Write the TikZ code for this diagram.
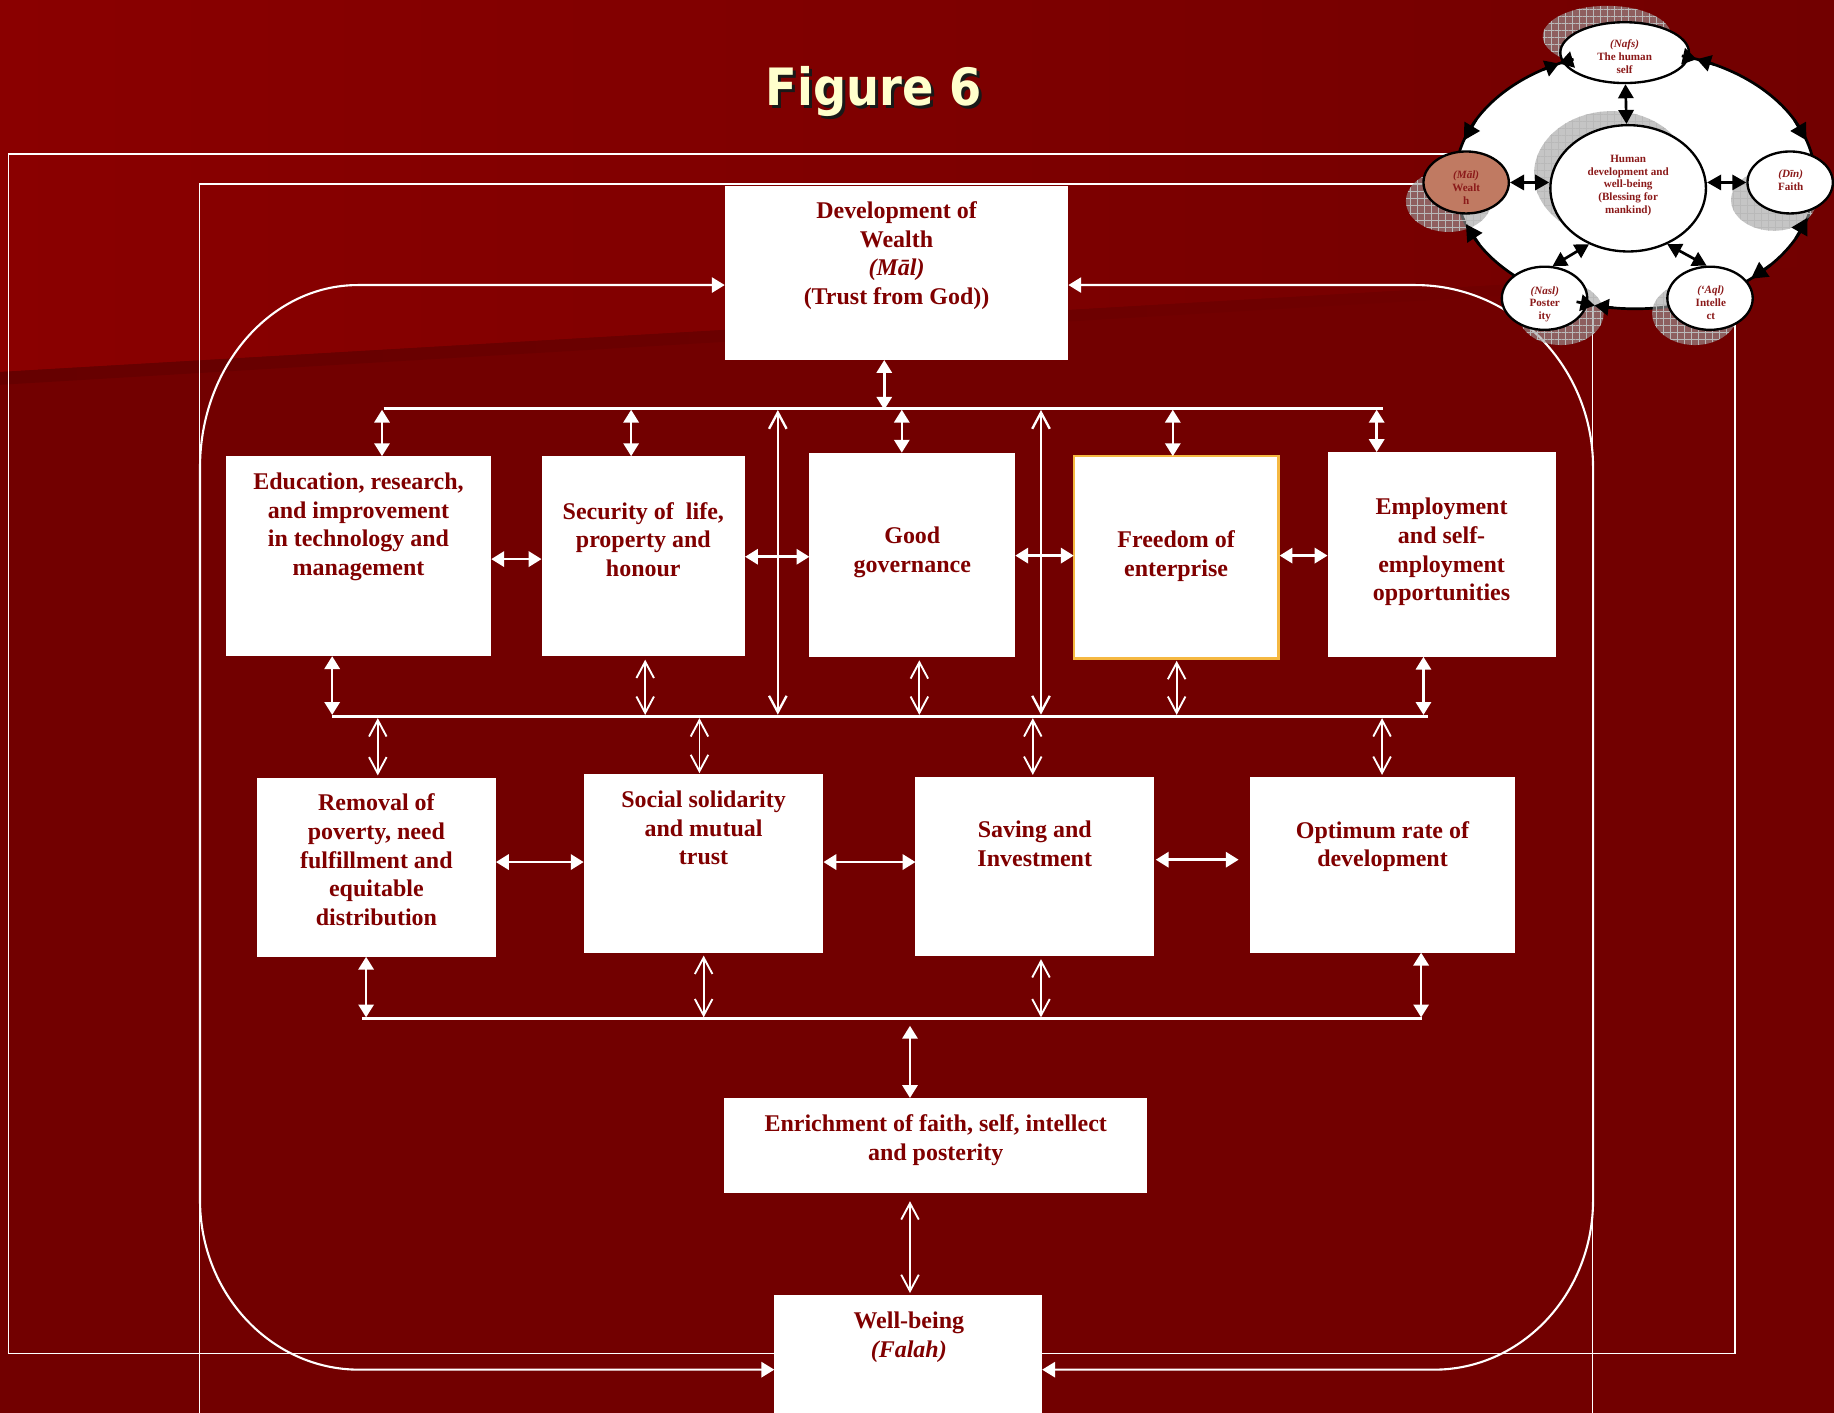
\documentclass[tikz,border=0pt]{standalone}
\usepackage{fontspec}
\setmainfont{Liberation Serif}
\newfontfamily\titlefont{DejaVu Sans}
\usetikzlibrary{arrows.meta,patterns.meta,shapes.geometric,calc}
\definecolor{bgred}{HTML}{720000}
\definecolor{bglight}{HTML}{8A0000}
\definecolor{bgmid}{HTML}{7E0000}
\definecolor{bgdark}{HTML}{660000}
\definecolor{txtred}{HTML}{800000}
\definecolor{elltxt}{HTML}{8B1A1A}
\definecolor{titleyel}{HTML}{FFFFCC}
\definecolor{orangeb}{HTML}{F5B841}
\definecolor{wealthc}{HTML}{C07A62}
\begin{document}
\begin{tikzpicture}[x=1pt,y=-1pt,
  boxw/.style={fill=white,draw=none,inner sep=0pt,outer sep=0pt},
  txt/.style={text=txtred,font=\bfseries\fontsize{20.5}{24.5}\selectfont,align=center,inner sep=0pt,anchor=north},
  fillarr/.style={draw=white,line width=2.2pt,{Triangle[length=11pt,width=13pt]}-{Triangle[length=11pt,width=13pt]}},
  openarr/.style={draw=white,line width=1.6pt,{Straight Barb[length=14pt,width=15pt,line width=1.6pt]}-{Straight Barb[length=14pt,width=15pt,line width=1.6pt]}},
  openarrl/.style={draw=white,line width=2.2pt,{Straight Barb[length=14pt,width=15pt,line width=2pt]}-{Straight Barb[length=14pt,width=15pt,line width=2pt]}},
  busline/.style={draw=white,line width=2.6pt},
  framel/.style={draw=white,line width=1.3pt},
  rrect/.style={draw=white,line width=1.8pt},
  satell/.style={ellipse,draw=black,line width=2pt,fill=white,inner sep=0pt,minimum width=73pt,minimum height=53pt},
  etxt/.style={text=elltxt,font=\bfseries\fontsize{9.5}{10.9}\selectfont,align=center,inner sep=0pt},
  shadf/.style={fill=gray!75,fill opacity=0.6},
  shadp/.style={pattern={Hatch[angle=0,distance=6pt,line width=0.6pt]},pattern color=gray!55},
  centarr/.style={draw=black,line width=2.3pt,{Triangle[length=12pt,width=13pt]}-{Triangle[length=12pt,width=13pt]}},
  ringtip/.style={draw=black,line width=2.3pt,-{Triangle[length=14pt,width=15pt]}},
  bowtip/.style={draw=black,line width=2.3pt,-{Triangle[length=12pt,width=14pt]}},
]
\useasboundingbox (0,0) rectangle (1568,1208);
\clip (0,0) rectangle (1568,1208);
% background
\fill[bgred] (0,0) rectangle (1568,1208);
\shade[left color=bglight,right color=bgred,middle color=bgmid] (0,0) -- (1568,0) -- (1568,227) -- (0,318) -- cycle;
\shade[left color=bgdark,right color=bgred] (0,318) -- (1568,227) -- (1568,236) -- (0,329) -- cycle;
% title
\node[font=\titlefont\bfseries\fontsize{44}{44}\selectfont,text=black!90,anchor=base,inner sep=0pt] (titlesh) at (749.5,92.5) {\scalebox{0.9}[1]{Figure 6}};
\node[font=\titlefont\bfseries\fontsize{44}{44}\selectfont,text=titleyel,anchor=base,inner sep=0pt] (title) at (747,90) {\scalebox{0.9}[1]{Figure 6}};
% frames
\draw[framel] (7.4,131.7) rectangle (1483.5,1157);
\draw[framel] (170.5,1220) -- (170.5,157.3) -- (1361.5,157.3) -- (1361.5,1220);
% boxes
\node[boxw,minimum width=293.8pt,minimum height=149.1pt] (dev) at (766.5,233.25) {};
\node[boxw,minimum width=227pt,minimum height=171pt] (edu) at (306.5,475.5) {};
\node[boxw,minimum width=174pt,minimum height=171pt] (sec) at (550,475.5) {};
\node[boxw,minimum width=176pt,minimum height=174.5pt] (gov) at (780,474.25) {};
\node[boxw,draw=orangeb,line width=2pt,minimum width=175pt,minimum height=173pt] (fre) at (1005.5,476.5) {};
\node[boxw,minimum width=195pt,minimum height=175pt] (emp) at (1232.5,474) {};
\node[boxw,minimum width=204.4pt,minimum height=153pt] (rem) at (321.8,741.5) {};
\node[boxw,minimum width=205pt,minimum height=152.5pt] (soc) at (601.5,738.25) {};
\node[boxw,minimum width=203.9pt,minimum height=152.5pt] (sav) at (884.65,740.75) {};
\node[boxw,minimum width=226pt,minimum height=150pt] (opt) at (1182,739.5) {};
\node[boxw,minimum width=361.3pt,minimum height=81.3pt] (enr) at (800,979.35) {};
\node[boxw,minimum width=229pt,minimum height=123pt] (wb) at (776.5,1168.5) {};
% box texts
\node[txt] (tdev) at (766.5,172.2) {Development of\\Wealth\\\textit{(Māl)}\\(Trust from God))};
\node[txt] (tedu) at (306.5,404.2) {Education, research,\\and improvement\\in technology and\\management};
\node[txt] (tsec) at (550,429.2) {Security of~ life,\\property and\\honour};
\node[txt] (tgov) at (780,450.2) {Good\\governance};
\node[txt] (tfre) at (1005.5,453.6) {Freedom of\\enterprise};
\node[txt] (temp) at (1232.5,425.7) {Employment\\and self-\\employment\\opportunities};
\node[txt] (trem) at (321.8,678.7) {Removal of\\poverty, need\\fulfillment and\\equitable\\distribution};
\node[txt] (tsoc) at (601.5,675.9) {Social solidarity\\and mutual\\trust};
\node[txt] (tsav) at (884.65,702) {Saving and\\Investment};
\node[txt] (topt) at (1182,702) {Optimum rate of\\development};
\node[txt] (tenr) at (800,952.9) {Enrichment of faith, self, intellect\\and posterity};
\node[txt] (twb) at (777,1121.6) {Well-being\\\textit{(Falah)}};
% rounded frame
\coordinate (rlt) at (306,243.7);
\coordinate (rlb) at (307,1171);
\coordinate (rrt) at (1210,243.7);
\coordinate (rrb) at (1226,1171);
\draw[rrect,{Triangle[length=11pt,width=13pt]}-{Triangle[length=11pt,width=13pt]}] (rlt -| dev.west) -- (rlt) arc[start angle=90,end angle=180,x radius=135pt,y radius=156pt] -- (171,1026) arc[start angle=180,end angle=270,x radius=136pt,y radius=145pt] -- (rlb -| wb.west);
\draw[rrect,{Triangle[length=11pt,width=13pt]}-{Triangle[length=11pt,width=13pt]}] (rrt -| dev.east) -- (rrt) arc[start angle=90,end angle=0,x radius=152pt,y radius=156pt] -- (1362,1026) arc[start angle=0,end angle=-90,x radius=136pt,y radius=145pt] -- (rrb -| wb.east);
% top bus
\draw[busline] (328,349) -- (1182,349);
\coordinate (tbd) at (756,350.3);
\draw[fillarr] (tbd) -- (tbd |- dev.south);
\foreach \x/\n in {326.6/edu,539.6/sec,771/gov,1002.7/fre,1177/emp} {
  \coordinate (t\n) at (\x,350.3);
  \draw[fillarr] (t\n) -- (t\n |- \n.north);
}
\coordinate (lv1a) at (665,350.5);
\coordinate (lv1b) at (665,611);
\coordinate (lv2a) at (890,350.5);
\coordinate (lv2b) at (890,611);
\draw[openarrl] (lv1a) -- (lv1b);
\draw[openarrl] (lv2a) -- (lv2b);
% row 1 horizontals
\draw[fillarr] ($(edu.east)+(0,2.5)$) -- ($(edu.east -| sec.west)+(0,2.5)$);
\draw[fillarr] ($(sec.east)+(0,0.5)$) -- ($(sec.east -| gov.west)+(0,0.5)$);
\draw[fillarr] ($(gov.east)+(0,0.75)$) -- ($(gov.east -| fre.west)+(0,0.75)$);
\draw[fillarr] ($(fre.east)+(1,-1.5)$) -- ($(fre.east -| emp.west)+(0,-1.5)$);
% middle bus
\draw[busline] (284,612.5) -- (1220.5,612.5);
\coordinate (medu) at (284,611.2);
\coordinate (msec) at (551.6,611.2);
\coordinate (mgov) at (786,611.2);
\coordinate (mfre) at (1006,611.2);
\coordinate (memp) at (1217,611.2);
\draw[fillarr] (medu |- edu.south) -- (medu);
\draw[openarr] ($(msec |- sec.south)+(0,3)$) -- (msec);
\draw[openarr] ($(mgov |- gov.south)+(0,3)$) -- (mgov);
\draw[openarr] ($(mfre |- fre.south)+(0,2)$) -- (mfre);
\draw[fillarr] (memp |- emp.south) -- (memp);
\coordinate (mrem) at (323,614);
\coordinate (msoc) at (598,614);
\coordinate (msav) at (883,614);
\coordinate (mopt) at (1181.6,614);
\draw[openarr] (mrem) -- ($(mrem |- rem.north)+(0,-2)$);
\draw[openarr] (msoc) -- ($(msoc |- soc.north)+(0,-1)$);
\draw[openarr] (msav) -- ($(msav |- sav.north)+(0,-2)$);
\draw[openarr] (mopt) -- ($(mopt |- opt.north)+(0,-2)$);
% row 2 horizontals
\draw[fillarr] ($(rem.east)+(0,-4.5)$) -- ($(rem.east -| soc.west)+(0,-4.5)$);
\draw[fillarr] ($(soc.east)+(0,-1.25)$) -- ($(soc.east -| sav.west)+(0,-1.25)$);
\draw[fillarr] ($(sav.east)+(1.5,-5.75)$) -- ($(sav.east -| opt.west)+(-10,-5.75)$);
% bottom bus
\draw[busline] (309.6,871) -- (1216,871);
\coordinate (brem) at (313,869.8);
\coordinate (bsoc) at (601.6,869.8);
\coordinate (bsav) at (890,869.8);
\coordinate (bopt) at (1215,869.8);
\draw[fillarr] (brem |- rem.south) -- (brem);
\draw[openarr] ($(bsoc |- soc.south)+(0,2.5)$) -- (bsoc);
\draw[openarr] ($(bsav |- sav.south)+(0,3)$) -- (bsav);
\draw[fillarr] (bopt |- opt.south) -- (bopt);
\coordinate (benr) at (778,877);
\draw[fillarr] (benr) -- (benr |- enr.north);
\draw[openarr] ($(benr |- enr.south)+(0,7)$) -- ($(benr |- wb.north)+(0,-1.5)$);
% ===== circle diagram =====
\coordinate (E) at (1398,154);
\draw[line width=2.3pt,fill=white] (E) ellipse [x radius=154pt,y radius=110pt];
% shadows
\foreach \cx/\cy/\rx/\ry in {1374/31/55/26, 1378/149/66.5/54, 1238.5/172/36.5/26.3, 1516.5/171/36.5/26.3, 1334.5/268/36.5/27, 1449/268/36.5/27} {
  \fill[shadf] (\cx,\cy) ellipse [x radius=\rx pt,y radius=\ry pt];
  \fill[shadp] (\cx,\cy) ellipse [x radius=\rx pt,y radius=\ry pt];
}
% satellites
\node[satell,minimum width=110pt,minimum height=52pt] (nafs) at (1389,45) {};
\node[satell,minimum width=133pt,minimum height=108pt] (hdev) at (1392,161) {};
\node[satell,fill=wealthc] (mal) at (1253.5,156) {};
\node[satell] (din) at (1530.5,156) {};
\node[satell,minimum height=54pt] (nasl) at (1320.5,255) {};
\node[satell,minimum height=54pt] (aql) at (1462,255) {};
\node[etxt] (tnafs) at (1389,48.6) {\textit{(Nafs)}\\The human\\self};
\node[etxt] (thdev) at (1392,158.5) {Human\\development and\\well-being\\(Blessing for\\mankind)};
\node[etxt] (tmal) at (1253.5,160.5) {\textit{(Māl)}\\Wealt\\h};
\node[etxt] (tdin) at (1531,154) {\textit{(Dīn)}\\Faith};
\node[etxt] (tnasl) at (1320.7,260) {\textit{(Nasl)}\\Poster\\ity};
\node[etxt] (taql) at (1462.7,259) {\textit{(‘Aql)}\\Intelle\\ct};
% centre arrows
\draw[centarr] (nafs) -- (hdev);
\draw[centarr] (mal.east) -- (mal.east -| hdev.west);
\draw[centarr] (din.west) -- (din.west -| hdev.east);
\draw[centarr] (nasl.76) -- (hdev.235);
\draw[centarr] (aql.96) -- (hdev.305);
% ring arrow tips
\draw[ringtip] ($(E)+(-152:154 and 110)$) -- ($(E)+(-162:154 and 110)$);
\draw[bowtip] ($(E)+(-121:154 and 110)$) -- ($(E)+(-115:154 and 110)$);
\draw[bowtip] ($(E)+(-110:154 and 110)$) -- ($(E)+(-115:154 and 110)$);
\draw[bowtip] ($(E)+(-64:154 and 110)$) -- ($(E)+(-70:154 and 110)$);
\draw[bowtip] ($(E)+(-75:154 and 110)$) -- ($(E)+(-70:154 and 110)$);
\draw[ringtip] ($(E)+(-28:154 and 110)$) -- ($(E)+(-18:154 and 110)$);
\draw[ringtip] ($(E)+(27:154 and 110)$) -- ($(E)+(17:154 and 110)$);
\draw[ringtip] ($(E)+(41:154 and 110)$) -- ($(E)+(50:154 and 110)$);
\draw[bowtip] ($(E)+(97:154 and 110)$) -- ($(E)+(103:154 and 110)$);
\draw[bowtip] ($(E)+(109:154 and 110)$) -- ($(E)+(103:154 and 110)$);
\draw[ringtip] ($(E)+(150:154 and 110)$) -- ($(E)+(160:154 and 110)$);
\end{tikzpicture}
\end{document}
